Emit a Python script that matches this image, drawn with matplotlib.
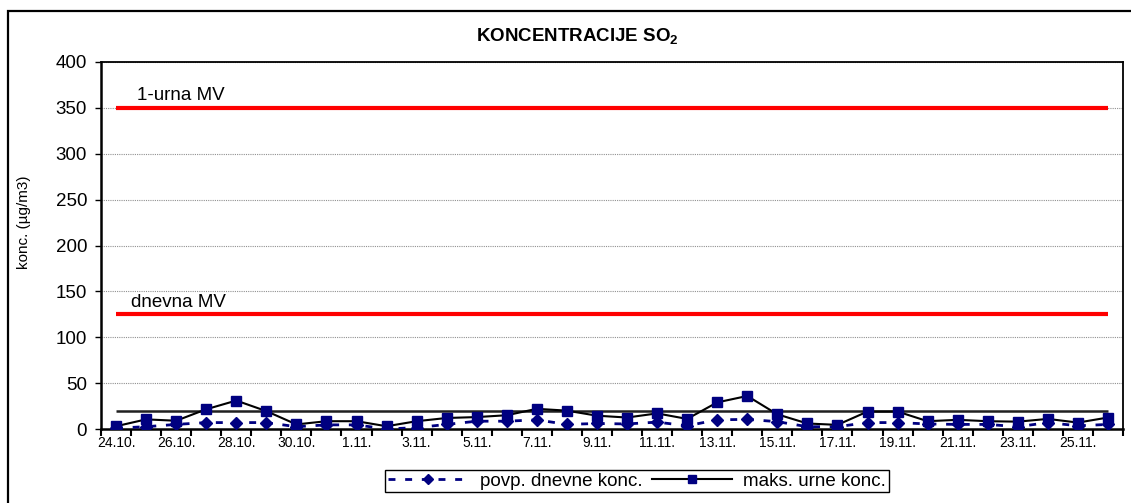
import numpy as np
import matplotlib
matplotlib.use('Agg')
import matplotlib.pyplot as plt
from matplotlib.lines import Line2D
from matplotlib.patches import Rectangle

plt.rcParams['font.family'] = ['Liberation Sans', 'DejaVu Sans']
plt.rcParams['mathtext.fontset'] = 'custom'
plt.rcParams['mathtext.rm'] = 'Liberation Sans'
plt.rcParams['mathtext.bf'] = 'Liberation Sans:bold'

# Dates 24.10. - 26.11.
days = ['24.10.', '25.10.', '26.10.', '27.10.', '28.10.', '29.10.', '30.10.', '31.10.'] + \
       ['%d.11.' % d for d in range(1, 27)]

# Measured SO2 concentrations (ug/m3)
avg_daily = [1, 2.5, 5, 7, 7, 7, 2.5, 4.5, 4.5, 0, 1.5, 5, 8.5,
             8.5, 10, 5, 6, 5.5, 7.5, 3.5, 10, 10.5, 8, 2.5, 2.5,
             7, 7, 5.5, 5, 5, 2.5, 7, 3.5, 5]
max_hourly = [3, 10.5, 9, 21.5, 31, 19.5, 5, 8.5, 8.5, 3, 8.5, 12, 13,
              15, 22, 20, 14.5, 12.5, 17, 11, 29, 36, 16, 6, 4.5,
              19, 19, 8.5, 10, 8.5, 8, 11, 7, 12.5]

# Limit values
limit_hourly = 350
limit_daily = 125
limit_other = 20

x = np.arange(len(days))
W, H = 1131, 503
fig = plt.figure(figsize=(W / 100, H / 100), dpi=100)
ax = fig.add_axes([101 / W, 1 - 429 / H, (1123 - 101) / W, (429 - 62) / H])

# outer chart border
fig.patches.append(Rectangle((8 / W, -0.05), 1.1, 1 - 11 / H + 0.05, transform=fig.transFigure,
                             fill=False, edgecolor='black', linewidth=1.6, clip_on=False))

# limit lines
ax.plot(x, [limit_hourly] * len(x), color='#ff0000', lw=3, solid_capstyle='butt', zorder=3)
ax.plot(x, [limit_daily] * len(x), color='#ff0000', lw=3, solid_capstyle='butt', zorder=3)
ax.plot(x, [limit_other] * len(x), color='#202020', lw=1.8, solid_capstyle='butt', zorder=3)
ax.text(0.7, limit_hourly + 4, '1-urna MV', fontsize=13.5, va='bottom')
ax.text(0.5, limit_daily + 4, 'dnevna MV', fontsize=13.5, va='bottom')

# data series
ax.plot(x, avg_daily, color='#000080', lw=2, dashes=(2.5, 3.5), marker='D',
        markersize=6.5, markeredgecolor='#000080', markerfacecolor='#000080', zorder=4)
ax.plot(x, max_hourly, color='black', lw=1.5, marker='s', markersize=7.5,
        markeredgecolor='#000080', markerfacecolor='#000080', zorder=5)

ax.set_xlim(-0.5, len(x) - 0.5)
ax.set_ylim(0, 400)
ax.set_yticks(np.arange(0, 401, 50))
ax.yaxis.grid(True, color='#909090', linestyle=(0, (1, 1)), linewidth=0.8)
ax.tick_params(axis='y', labelsize=13.5, length=4, width=1, pad=6, direction='out')

ax.set_xticks(x[::2])
ax.set_xticklabels(days[::2], fontsize=10)
ax.set_xticks(np.arange(-0.5, len(x), 1), minor=True)
ax.tick_params(axis='x', which='major', length=0, pad=5)
ax.tick_params(axis='x', which='minor', length=5, width=1.5, direction='out')

for side in ['left', 'bottom']:
    ax.spines[side].set_linewidth(1.8)
for side in ['top', 'right']:
    ax.spines[side].set_linewidth(1.3)

fig.text(24 / W, 1 - 222 / H, 'konc. (µg/m3)', fontsize=11, rotation=90,
         ha='center', va='center')

fig.text(577 / W, 1 - 37 / H, r'KONCENTRACIJE SO$_\mathbf{2}$', fontsize=13.5,
         fontweight='bold', ha='center', va='center')

handles = [Line2D([], [], color='#000080', lw=2, dashes=(2.5, 3.5), marker='D', markersize=5,
                  markeredgecolor='#000080', markerfacecolor='#000080'),
           Line2D([], [], color='black', lw=1.5, marker='s', markersize=6,
                  markeredgecolor='#000080', markerfacecolor='#000080')]
leg = fig.legend(handles, ['povp. dnevne konc.', 'maks. urne konc.'], ncol=2,
                 loc='center', bbox_to_anchor=(637 / W, 1 - 481 / H), fontsize=13.5,
                 frameon=True, fancybox=False, edgecolor='black', framealpha=1,
                 borderpad=0.15, handlelength=4.3, handletextpad=0.6, columnspacing=0.5,
                 borderaxespad=0)
leg.get_frame().set_linewidth(1.0)

fig.savefig('out.png', dpi=100)
